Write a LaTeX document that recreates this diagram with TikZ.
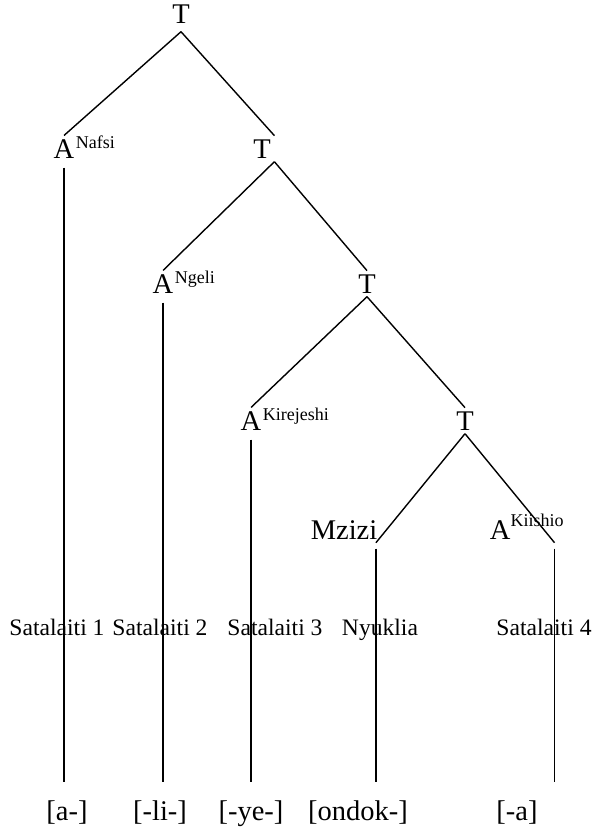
\documentclass[tikz,border=0pt]{standalone}
\usepackage{fontspec}
\setmainfont{Liberation Serif}
\newcommand{\treefont}{\fontsize{28.5}{30}\selectfont}
\newcommand{\satfont}{\fontsize{23.6}{25}\selectfont}
\newcommand{\supfont}{\fontsize{18}{19}\selectfont}
\newcommand{\Asup}[1]{A\rlap{\smash{\kern1.5pt\raisebox{10pt}{\supfont #1}}}}
\begin{document}
\begin{tikzpicture}[x=1pt, y=-1pt, line width=1.4pt,
		tn/.style={font=\treefont, inner sep=3pt, anchor=base},
		sat/.style={font=\satfont, inner sep=2pt, anchor=base},
		stem/.style={shorten <=6pt, shorten >=15pt}]
		\useasboundingbox (0,0) rectangle (594,832);

		\node[tn] at (181, 24) (t) {T};
		\node[tn] at (64, 158) (an) {\Asup{Nafsi}};
		\node[tn] at (262, 158) (t2) {T};

		\node[tn] at (163, 293) (ang) {\Asup{Ngeli}};
		\node[tn] at (367, 293) (t3) {T};

		\node[tn] at (251, 430) (akj) {\Asup{Kirejeshi}};
		\node[tn] at (465, 430) (t4) {T};

		\node[tn] at (344, 539) (mz) {Mzizi};
		\node[tn] at (527, 539) (aki) {A\textsuperscript{\smash{\supfont\raisebox{3pt}{Kiishio}}}};
		\coordinate (m) at ([xshift=-5pt]mz.south east);
		\coordinate (k) at ([xshift=-13.2pt]aki.south east);

		\node[sat] at (57, 635) (l1) {Satalaiti 1};
		\node[sat] at (160, 635) (l2) {Satalaiti 2};
		\node[sat] at (275, 635) (l3) {Satalaiti 3};
		\node[sat] at (380, 635) (l4) {Nyuklia};
		\node[sat] at (544, 635) (l5) {Satalaiti 4};

		\node[tn] at (67, 820) (b1) {[a-]};
		\node[tn] at (160, 820) (b2) {[-li-]};
		\node[tn] at (251, 820) (b3) {[-ye-]};
		\node[tn] at (358, 820) (b4) {[ondok-]};
		\node[tn] at (517, 820) (b5) {[-a]};

		% draw edges
		\draw[] ([yshift=-4pt]t.south) -- (an.north);
		\draw[] ([yshift=-4pt]t.south) -- (t2.north east);
		\draw[] (t2.south east) -- (ang.north);
		\draw[] (t2.south east) -- (t3.north);
		\draw[] (t3.south) -- (akj.north);
		\draw[] (t3.south) -- (t4.north);
		\draw[] (t4.south) -- (m);
		\draw[] (t4.south) -- (k);

		\draw[stem] (an.south) -- (an.south |- b1.north);
		\draw[stem] (ang.south) -- (ang.south |- b2.north);
		\draw[stem] (akj.south) -- (akj.south |- b3.north);
		\draw[stem] (m) -- (m |- b4.north);
		\draw[stem] (k) -- (k |- b5.north);
		\end{tikzpicture}
\end{document}
